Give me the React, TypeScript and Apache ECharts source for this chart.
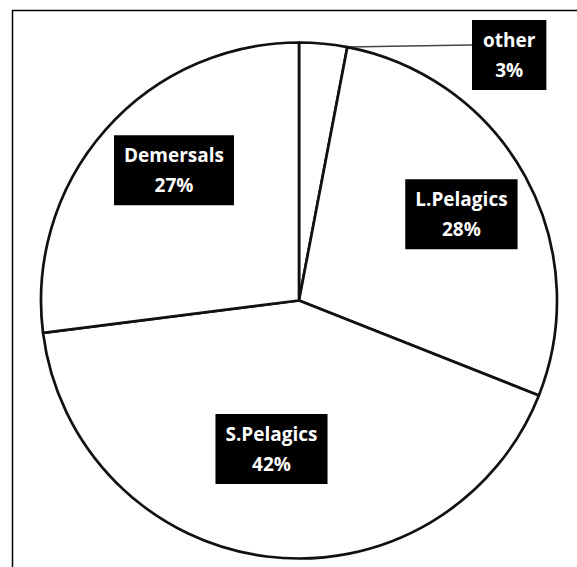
import React, { useEffect, useRef } from "react";
import * as echarts from "echarts";

const categories = ["other", "L.Pelagics", "S.Pelagics", "Demersals"];
const values = [3, 28, 42, 27];

const CX = 299;
const CY = 300.5;
const R = 258;
// label placement (style): radial factor and angular nudge (deg) for inside labels
const labelRadial = [0, 0.713, 0.585, 0.7];
const labelNudge = [0, 0.8, 3.3, 4.8];

export default function App() {
  const ref = useRef<HTMLDivElement>(null);
  useEffect(() => {
    document.body.style.margin = "0";
    const chart = echarts.init(ref.current!, undefined, { renderer: "svg" });
    const total = values.reduce((a, b) => a + b, 0);
    const cum: number[] = [];
    let acc = 0;
    values.forEach((v) => {
      cum.push(acc);
      acc += v;
    });
    const angleOf = (frac: number) => frac * 2 * Math.PI;
    chart.setOption({
      animation: false,
      backgroundColor: "#fff",
      graphic: [
        {
          type: "rect",
          shape: { x: 12.5, y: 10.5, width: 700, height: 700 },
          style: { fill: "none", stroke: "#000", lineWidth: 1.5 },
          silent: true,
        },
      ],
      series: [
        {
          type: "pie",
          center: [CX, CY],
          radius: [0, R],
          startAngle: 90,
          clockwise: true,
          avoidLabelOverlap: false,
          itemStyle: { color: "#fff", borderColor: "#111", borderWidth: 2.7 },
          emphasis: { disabled: true },
          label: {
            show: true,
            position: "inside",
            formatter: "{b}\n{c}%",
            color: "#fff",
            backgroundColor: "#000",
            fontFamily: "Open Sans",
            fontWeight: "bold",
            fontSize: 19,
            lineHeight: 30,
            padding: [5, 10],
            align: "center",
          },
          labelLine: { show: false },
          labelLayout: (params: any) => {
            const i = params.dataIndex;
            if (i === 0) {
              const a = angleOf((cum[0] + values[0]) / total);
              const ex = CX + R * Math.sin(a);
              const ey = CY - R * Math.cos(a);
              const w = params.labelRect.width;
              return {
                x: 472 + w / 2,
                y: 55,
                align: "center",
                verticalAlign: "middle",
                labelLinePoints: [
                  [ex, ey],
                  [ex + 60, ey - 1],
                  [472, ey - 2],
                ],
              };
            }
            const mid =
              angleOf((cum[i] + values[i] / 2) / total) +
              (labelNudge[i] * Math.PI) / 180;
            const rr = labelRadial[i] * R;
            return {
              x: CX + rr * Math.sin(mid),
              y: CY - rr * Math.cos(mid),
              align: "center",
              verticalAlign: "middle",
            };
          },
          data: categories.map((name, i) =>
            i === 0
              ? {
                  name,
                  value: values[i],
                  label: { position: "outside", padding: [5, 11] },
                  labelLine: {
                    show: true,
                    lineStyle: { color: "#444", width: 1.5 },
                  },
                }
              : { name, value: values[i] }
          ),
        },
      ],
    });
    return () => chart.dispose();
  }, []);
  return <div ref={ref} style={{ width: 577, height: 567 }} />;
}
